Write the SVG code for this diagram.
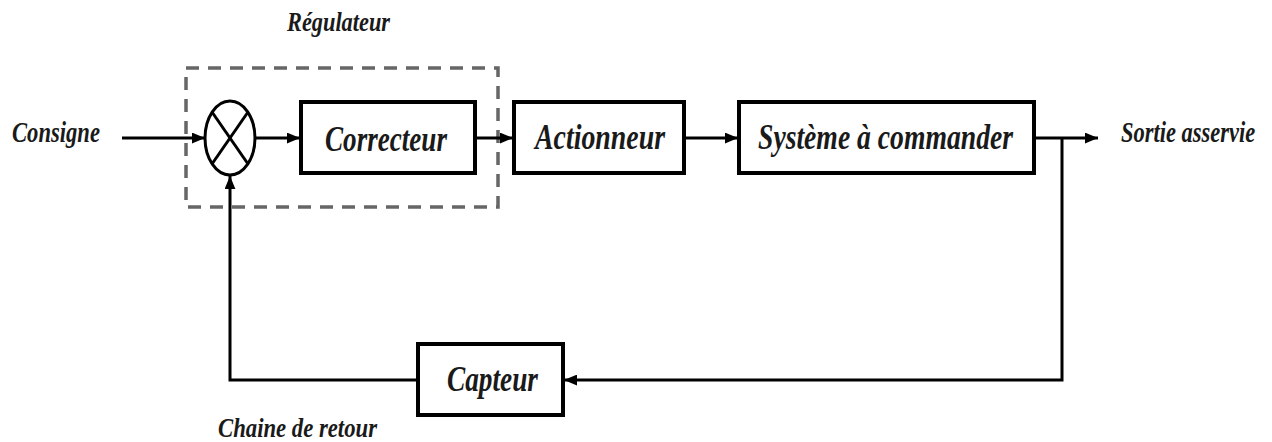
<svg xmlns="http://www.w3.org/2000/svg" width="1272" height="442" viewBox="0 0 1272 442">
<style>
.blk{fill:#fff;stroke:#000;stroke-width:4}
.lbl{font-family:"Liberation Serif",serif;font-weight:bold;font-style:italic;fill:#1a1a1a}
.big{font-size:36px}
.sm{font-size:28px}
.md{font-size:30px}
.ln{fill:none;stroke:#000;stroke-width:3}
</style>
<defs>
<marker id="ah" viewBox="0 0 12 10" refX="12" refY="5" markerWidth="13" markerHeight="11" markerUnits="userSpaceOnUse" orient="auto">
<path d="M0,0 L12,5 L0,10 Z" fill="#000"/>
</marker>
</defs>
<rect width="1272" height="442" fill="#fff"/>
<g id="regulateur">
<rect x="186" y="68" width="312" height="139" fill="none" stroke="#666" stroke-width="3.5" stroke-dasharray="13,9"/>
<text class="lbl sm" x="287" y="31" textLength="103" lengthAdjust="spacingAndGlyphs">Régulateur</text>
</g>
<g id="consigne"><text class="lbl md" x="12" y="142" textLength="88" lengthAdjust="spacingAndGlyphs">Consigne</text></g>
<g id="sommateur">
<ellipse cx="230" cy="138" rx="25" ry="37" fill="#fff" stroke="#000" stroke-width="3"/>
<line x1="212" y1="112" x2="248" y2="164" stroke="#000" stroke-width="3"/>
<line x1="248" y1="112" x2="212" y2="164" stroke="#000" stroke-width="3"/>
</g>
<g id="correcteur">
<rect class="blk" x="301" y="102" width="174" height="71"/>
<text class="lbl big" x="325" y="151" textLength="122" lengthAdjust="spacingAndGlyphs">Correcteur</text>
</g>
<g id="actionneur">
<rect class="blk" x="514" y="102" width="170" height="71"/>
<text class="lbl big" x="535" y="149" textLength="130" lengthAdjust="spacingAndGlyphs">Actionneur</text>
</g>
<g id="systeme">
<rect class="blk" x="739" y="102" width="295" height="71"/>
<text class="lbl big" x="758" y="149" textLength="255" lengthAdjust="spacingAndGlyphs">Système à commander</text>
</g>
<g id="sortie"><text class="lbl md" transform="translate(1121,142) scale(0.75,1)" x="0" y="0">Sortie asservie</text></g>
<g id="capteur">
<rect class="blk" x="418" y="344" width="145" height="71"/>
<text class="lbl big" x="447" y="391" textLength="91" lengthAdjust="spacingAndGlyphs">Capteur</text>
</g>
<g id="chaine"><text class="lbl sm" x="218" y="437" textLength="159" lengthAdjust="spacingAndGlyphs">Chaine de retour</text></g>
<g id="connectors">
<line class="ln" x1="122" y1="138" x2="205" y2="138" marker-end="url(#ah)"/>
<line class="ln" x1="255" y1="138" x2="300" y2="138" marker-end="url(#ah)"/>
<line class="ln" x1="477" y1="138" x2="513" y2="138" marker-end="url(#ah)"/>
<line class="ln" x1="686" y1="138" x2="738" y2="138" marker-end="url(#ah)"/>
<line class="ln" x1="1036" y1="138" x2="1098" y2="138" marker-end="url(#ah)"/>
<polyline class="ln" points="1062,138 1062,380 564,380" marker-end="url(#ah)"/>
<polyline class="ln" points="417,380 230,380 230,176" marker-end="url(#ah)"/>
</g>
</svg>
